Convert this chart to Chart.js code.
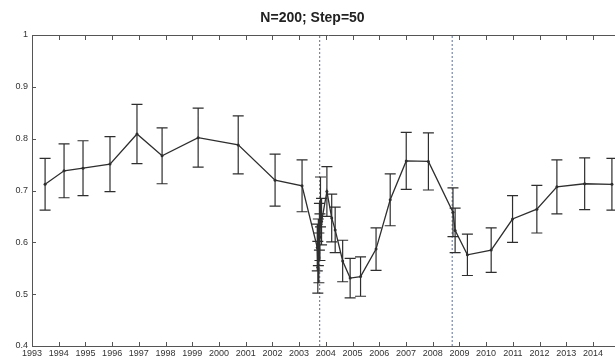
<!DOCTYPE html>
<html>
<head>
<meta charset="utf-8">
<script src="https://cdn.jsdelivr.net/npm/chart.js@4.4.1/dist/chart.umd.min.js"></script>
<style>
  html, body { margin: 0; padding: 0; background: #fff; overflow: hidden; }
  /* the reference is a crop of a wider figure: plot keeps going past the right edge */
  #wrap { width: 646px; height: 359px; }
</style>
</head>
<body>
<div id="wrap"><canvas id="chart"></canvas></div>
<script>
// Window dates (fractional years), mean value and error half-width
const years = [1993.49, 1994.20, 1994.91, 1995.92, 1996.93, 1997.87, 1999.22, 2000.72, 2002.10, 2003.11,
               2003.68, 2003.70, 2003.72, 2003.74, 2003.76, 2003.78, 2003.80, 2003.84,
               2004.04, 2004.22, 2004.35, 2004.63, 2004.91, 2005.30, 2005.88, 2006.41, 2007.01, 2007.84,
               2008.76, 2008.84, 2009.30, 2010.19, 2010.99, 2011.90, 2012.65, 2013.69, 2014.71];
const values = [0.712, 0.738, 0.743, 0.751, 0.809, 0.767, 0.802, 0.788, 0.720, 0.709,
                0.590, 0.552, 0.600, 0.570, 0.630, 0.610, 0.678, 0.640,
                0.698, 0.647, 0.624, 0.564, 0.531, 0.534, 0.587, 0.682, 0.757, 0.756,
                0.658, 0.623, 0.576, 0.585, 0.645, 0.664, 0.707, 0.713, 0.712];
const errs = [0.050, 0.052, 0.053, 0.053, 0.057, 0.054, 0.057, 0.056, 0.050, 0.050,
              0.045, 0.050, 0.045, 0.048, 0.045, 0.045, 0.048, 0.045,
              0.048, 0.046, 0.044, 0.040, 0.038, 0.038, 0.041, 0.050, 0.055, 0.055,
              0.047, 0.043, 0.040, 0.043, 0.045, 0.046, 0.052, 0.050, 0.050];
const markerYears = [2003.77, 2008.73];
const xMin = 1993, xMax = 2015.2, lastLabel = 2014;
const yMin = 0.4, yMax = 1;

const ink = '#2e2e2e';

/**
 * Error bars with caps, drawn from the x/y scales
 */
const errorBars = {
    id: 'errorBars',
    afterDatasetsDraw(chart) {
        const { ctx, scales: { x, y } } = chart;
        ctx.save();
        ctx.strokeStyle = ink;
        ctx.lineWidth = 1.2;
        ctx.beginPath();
        years.forEach((yr, i) => {
            const px = x.getPixelForValue(yr);
            const top = y.getPixelForValue(values[i] + errs[i]);
            const bot = y.getPixelForValue(values[i] - errs[i]);
            ctx.moveTo(px, top); ctx.lineTo(px, bot);
            ctx.moveTo(px - 5.5, top); ctx.lineTo(px + 5.5, top);
            ctx.moveTo(px - 5.5, bot); ctx.lineTo(px + 5.5, bot);
        });
        ctx.stroke();
        ctx.restore();
    }
};

/**
 * Box top line and inward tick marks (MATLAB style)
 */
const frameTicks = {
    id: 'frameTicks',
    afterDraw(chart) {
        const { ctx, chartArea: a, scales: { x, y } } = chart;
        ctx.save();
        ctx.strokeStyle = '#555';
        ctx.lineWidth = 1;
        ctx.beginPath();
        ctx.moveTo(a.left, a.top + 0.5); ctx.lineTo(a.right, a.top + 0.5);
        x.ticks.forEach(t => {
            const px = Math.round(x.getPixelForValue(t.value)) + 0.5;
            ctx.moveTo(px, a.bottom); ctx.lineTo(px, a.bottom - 4);
            ctx.moveTo(px, a.top); ctx.lineTo(px, a.top + 5);
        });
        y.ticks.forEach(t => {
            const py = Math.round(y.getPixelForValue(t.value)) + 0.5;
            ctx.moveTo(a.left, py); ctx.lineTo(a.left + 4, py);
        });
        ctx.stroke();
        ctx.restore();
    }
};

const markerSets = markerYears.map(m => ({
    data: [{ x: m, y: yMin }, { x: m, y: yMax }],
    borderColor: '#5f6f93',
    borderWidth: 1,
    borderDash: [2, 2],
    pointRadius: 0
}));

new Chart(document.getElementById('chart'), {
    type: 'line',
    data: {
        datasets: [{
            data: years.map((yr, i) => ({ x: yr, y: values[i] })),
            borderColor: ink,
            borderWidth: 1.3,
            pointRadius: 1.5,
            pointBackgroundColor: ink,
            pointBorderWidth: 0,
            tension: 0
        }, ...markerSets]
    },
    options: {
        responsive: true,
        maintainAspectRatio: false,
        animation: false,
        layout: { padding: { left: 0, right: 21, top: 0, bottom: 0 } },
        plugins: {
            legend: { display: false },
            tooltip: { enabled: false },
            title: {
                display: true,
                text: 'N=200; Step=50',
                color: '#222',
                font: { family: 'Liberation Sans', size: 14, weight: 'bold' },
                padding: { top: 10, bottom: 8.2 }
            }
        },
        scales: {
            x: {
                type: 'linear',
                min: xMin,
                max: xMax,
                grid: { display: false, drawTicks: false },
                border: { display: true, color: '#555', width: 1 },
                ticks: {
                    stepSize: 1,
                    includeBounds: false,
                    autoSkip: false,
                    maxRotation: 0,
                    padding: 2,
                    color: '#333',
                    font: { family: 'Liberation Sans', size: 9 },
                    callback: v => (v <= lastLabel ? String(v) : '')
                },
                afterFit: s => { s.height = 13; }
            },
            y: {
                min: yMin,
                max: yMax,
                grid: { display: false, drawTicks: false },
                border: { display: true, color: '#555', width: 1 },
                ticks: {
                    stepSize: 0.1,
                    padding: 4,
                    color: '#333',
                    font: { family: 'Liberation Sans', size: 9 },
                    callback: v => String(+v.toFixed(1))
                },
                afterFit: s => { s.width = 32; }
            }
        }
    },
    plugins: [errorBars, frameTicks]
});
</script>
</body>
</html>
